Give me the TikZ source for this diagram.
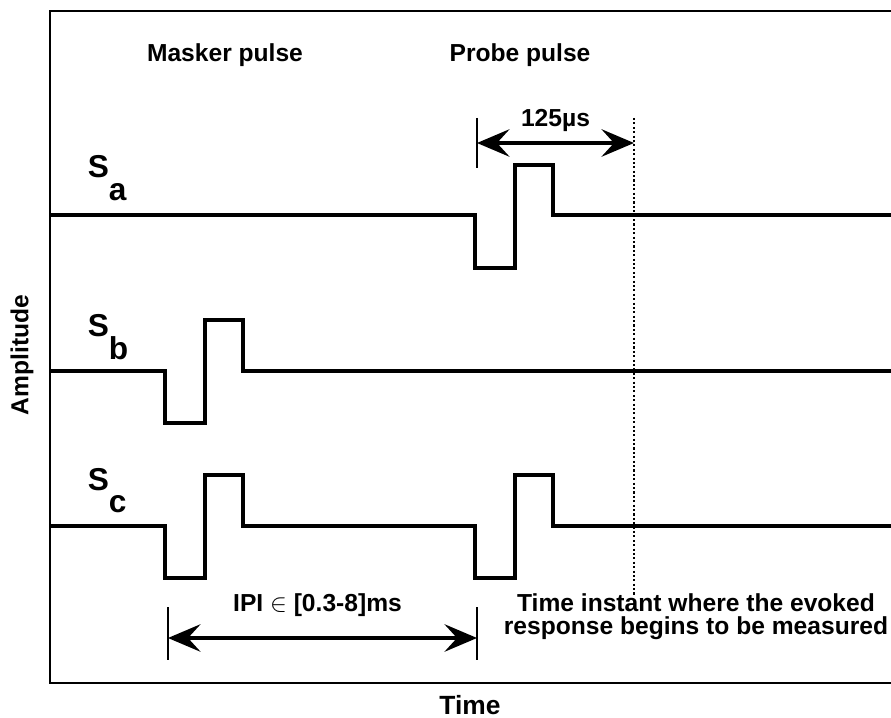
\documentclass[tikz,border=0pt]{standalone}
\usepackage{fontspec}
\setmainfont{Liberation Sans}
\usetikzlibrary{positioning, arrows.meta}
\tikzstyle{sig}=[line width=2.2pt]
\tikzstyle{frame}=[line width=1.6pt]
\tikzstyle{lbl}=[font=\bfseries\fontsize{14}{13}\selectfont, inner sep=0pt]
\tikzstyle{slbl}=[font=\bfseries\fontsize{18}{20}\selectfont, inner sep=0pt, anchor=base west]
\tikzstyle{dim}=[line width=2pt, {Stealth[length=6.5mm,width=5.5mm,inset=2.5mm]}-{Stealth[length=6.5mm,width=5.5mm,inset=2.5mm]}]
\tikzstyle{tick}=[line width=1.1pt]
\tikzstyle{instant}=[line width=1.3pt, dash pattern=on 1.2pt off 1.3pt]

\begin{document}
\begin{tikzpicture}
            \useasboundingbox (0,0) rectangle (17.82,-14.36);
            % frame, open on the right
            \draw[frame] (17.82,-0.22) -- (1,-0.22) -- (1,-13.66) -- (17.82,-13.66);
            % the three signals
            \draw[sig] (1,-4.3) -- (9.5,-4.3) |- (10.3,-5.36) |- (11.06,-3.3) |- (17.82,-4.3);
            \draw[sig] (1,-7.42) -- (3.3,-7.42) |- (4.1,-8.46) |- (4.86,-6.4) |- (17.82,-7.42);
            \draw[sig] (1,-10.52) -- (3.3,-10.52) |- (4.1,-11.56) |- (4.86,-9.5)
                |- (9.5,-10.52) |- (10.3,-11.56) |- (11.06,-9.5) |- (17.82,-10.52);
            \node[slbl] (Sa) at (1.75,-3.56) {S\raisebox{-13pt}{a}};
            \node[slbl] (Sb) at (1.75,-6.74) {S\raisebox{-13pt}{b}};
            \node[slbl] (Sc) at (1.75,-9.8) {S\raisebox{-13pt}{c}};
            \node[lbl] (masker) at (4.5,-1.1) {Masker pulse};
            \node[lbl, right of=masker, node distance=5.9cm] (probe) {Probe pulse};
            % measuring instant
            \coordinate (tTop) at (12.68,-2.36);
            \coordinate (tBot) at (12.68,-11.9);
            \draw[instant] (tTop) -- (tBot);
            \node[lbl, align=center] (tText) at (13.92,-12.33)
                {Time instant where the evoked\\response begins to be measured};
            % 125 us
            \coordinate (dTop) at (9.54,-2.36);
            \coordinate (dBot) at (9.54,-3.36);
            \coordinate (dL) at (9.54,-2.86);
            \coordinate (dR) at (12.68,-2.86);
            \draw[tick] (dTop) -- (dBot);
            \draw[dim] (dL) -- node[lbl, above=0.2cm] (dur) {125µs} (dR);
            % inter pulse interval
            \coordinate (iTopL) at (3.36,-12.14);
            \coordinate (iBotL) at (3.36,-13.2);
            \coordinate (iTopR) at (9.54,-12.14);
            \coordinate (iBotR) at (9.54,-13.2);
            \coordinate (iL) at (3.36,-12.76);
            \coordinate (iR) at (9.54,-12.76);
            \draw[tick] (iTopL) -- (iBotL);
            \draw[tick] (iTopR) -- (iBotR);
            \draw[dim] (iL) -- node[lbl, above=0.4cm, xshift=-0.1cm] (ipi) {IPI $\in$ [0.3-8]ms} (iR);
            % axes labels
            \node[lbl, rotate=90] (amp) at (0.44,-7.1) {Amplitude};
            \node[lbl, font=\bfseries\fontsize{15}{17}\selectfont] (time) at (9.4,-14.1) {Time};
        \end{tikzpicture}
\end{document}
